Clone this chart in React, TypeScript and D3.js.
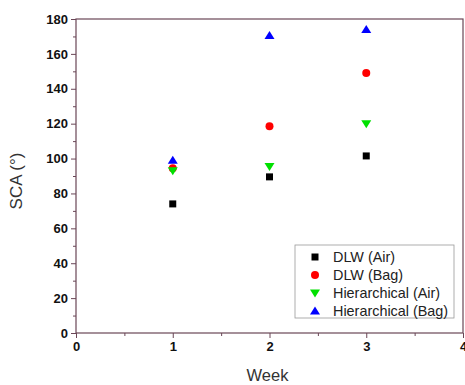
import { useEffect, useRef } from "react";
import * as d3 from "d3";

const weeks = [1, 2, 3];
const dlwAir = [74, 89.5, 101.5];
const dlwBag = [94.5, 118.5, 149];
const hierAir = [93, 95.5, 120];
const hierBag = [99, 170.5, 174];

const seriesNames = ["DLW (Air)", "DLW (Bag)", "Hierarchical (Air)", "Hierarchical (Bag)"];
const seriesValues = [dlwAir, dlwBag, hierAir, hierBag];
const seriesColors = ["#000000", "#ff0000", "#00e000", "#0000ff"];
const seriesSymbols = ["square", "circle", "down", "up"];

const xTicks = [0, 1, 2, 3, 4];
const yTicks = [0, 20, 40, 60, 80, 100, 120, 140, 160, 180];

const AXIS = "#6a4656";

function symbolPath(kind: string, cx: number, cy: number) {
  if (kind === "square") return `M${cx - 3.5},${cy - 3.5}h7v7h-7z`;
  if (kind === "circle") return `M${cx - 4},${cy}a4,4 0 1,0 8,0a4,4 0 1,0 -8,0z`;
  if (kind === "up") return `M${cx},${cy - 4.5}L${cx + 5},${cy + 3.5}L${cx - 5},${cy + 3.5}z`;
  return `M${cx},${cy + 4.5}L${cx + 5},${cy - 3.5}L${cx - 5},${cy - 3.5}z`;
}

export default function App() {
  const svgRef = useRef<SVGSVGElement>(null);

  useEffect(() => {
    const svg = d3.select(svgRef.current);
    svg.selectAll("*").remove();

    const margin = { top: 19, right: 2, bottom: 52, left: 76 };
    const fullWidth = 465;
    const fullHeight = 385;
    const width = fullWidth - margin.left - margin.right;
    const height = fullHeight - margin.top - margin.bottom;

    const x = d3.scaleLinear().domain([0, 4]).range([0, width]);
    const y = d3.scaleLinear().domain([0, 180]).range([height, 0]);

    const g = svg.append("g").attr("transform", `translate(${margin.left},${margin.top})`);
    const font = "Liberation Sans, Arial, sans-serif";

    // frame
    g.append("rect")
      .attr("x", 0)
      .attr("y", 0)
      .attr("width", width)
      .attr("height", height)
      .attr("fill", "none")
      .attr("stroke", AXIS)
      .attr("stroke-width", 1.2);

    // x axis
    const xa = g
      .append("g")
      .attr("transform", `translate(0,${height})`)
      .call(d3.axisBottom(x).tickValues(xTicks).tickSize(5).tickPadding(4).tickFormat(d3.format("d")));
    xa.select(".domain").remove();
    xa.selectAll("line").attr("stroke", AXIS);
    xa.selectAll("text")
      .attr("fill", "#111")
      .attr("font-size", "13px")
      .attr("font-weight", "bold")
      .attr("font-family", font);
    g.append("g")
      .attr("transform", `translate(0,${height})`)
      .call(d3.axisBottom(x).tickValues([0.5, 1.5, 2.5, 3.5]).tickSize(3).tickFormat(() => ""))
      .call((s) => s.select(".domain").remove())
      .selectAll("line")
      .attr("stroke", AXIS);

    // y axis
    const ya = g
      .append("g")
      .call(d3.axisLeft(y).tickValues(yTicks).tickSize(5).tickPadding(3));
    ya.select(".domain").remove();
    ya.selectAll("line").attr("stroke", AXIS);
    ya.selectAll("text")
      .attr("fill", "#111")
      .attr("font-size", "13px")
      .attr("font-weight", "bold")
      .attr("font-family", font);
    g.append("g")
      .call(d3.axisLeft(y).tickValues(d3.range(10, 180, 20)).tickSize(3).tickFormat(() => ""))
      .call((s) => s.select(".domain").remove())
      .selectAll("line")
      .attr("stroke", AXIS);

    // axis titles
    g.append("text")
      .attr("x", width / 2 - 2)
      .attr("y", height + 48)
      .attr("text-anchor", "middle")
      .attr("font-size", "16.5px")
      .attr("font-family", font)
      .attr("fill", "#333")
      .text("Week");
    g.append("text")
      .attr("transform", `translate(-54,${height / 2 + 5}) rotate(-90)`)
      .attr("text-anchor", "middle")
      .attr("font-size", "17px")
      .attr("font-family", font)
      .attr("fill", "#333")
      .text("SCA (°)");

    // points
    seriesValues.forEach((vals, i) => {
      g.selectAll(`.pt-${i}`)
        .data(vals)
        .join("path")
        .attr("class", `pt-${i}`)
        .attr("d", (d, j) => symbolPath(seriesSymbols[i], x(weeks[j]), y(d)))
        .attr("fill", seriesColors[i]);
    });

    // legend
    const lx = 219;
    const ly = 226;
    const legend = g.append("g").attr("transform", `translate(${lx},${ly})`);
    legend
      .append("rect")
      .attr("width", 159)
      .attr("height", 73)
      .attr("fill", "#fff")
      .attr("stroke", "#999")
      .attr("stroke-width", 0.8);
    seriesNames.forEach((name, i) => {
      const cy = 12 + i * 18;
      legend
        .append("path")
        .attr("d", symbolPath(seriesSymbols[i], 20, cy))
        .attr("fill", seriesColors[i]);
      legend
        .append("text")
        .attr("x", 38)
        .attr("y", cy + 5)
        .attr("font-size", "14.4px")
        .attr("font-family", font)
        .attr("fill", "#222")
        .text(name);
    });
  }, []);

  return (
    <svg
      ref={svgRef}
      width={465}
      height={385}
      style={{ position: "absolute", left: 0, top: 0, background: "#fff" }}
    />
  );
}
